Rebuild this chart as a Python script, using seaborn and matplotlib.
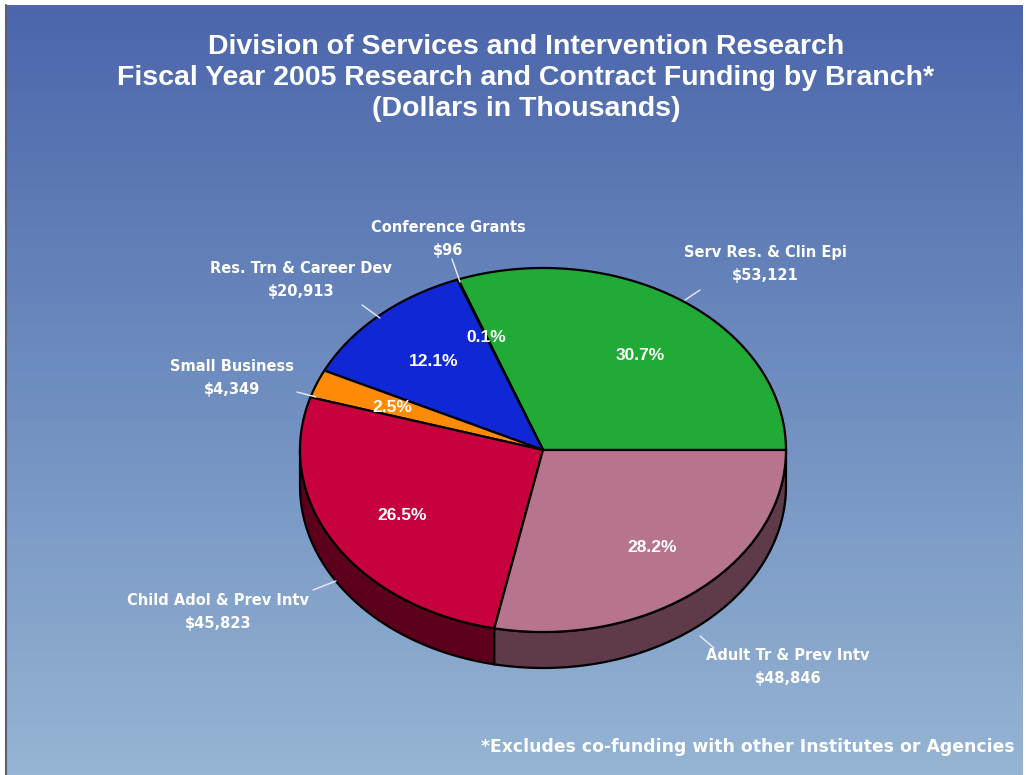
import numpy as np
import pandas as pd
import matplotlib.pyplot as plt
import matplotlib.colors as mcolors
from matplotlib.patches import Polygon
import seaborn as sns

# Data (dollars in thousands)
branches = ["Serv Res. & Clin Epi", "Conference Grants", "Res. Trn & Career Dev",
            "Small Business", "Child Adol & Prev Intv", "Adult Tr & Prev Intv"]
funding = [53121, 96, 20913, 4349, 45823, 48846]
top_colors = ["#21AA35", "#1A1A1A", "#1027D6", "#FF8A05", "#C7003E", "#B7748F"]
side_colors = ["#125E1D", "#0A0A0A", "#081570", "#8A4A00", "#5C001C", "#5E3A4A"]

# label placement (pixel coords of label text centre, leader line start/end)
label_pos = [(765, 264), (448, 239), (301, 280), (232, 378), (218, 612), (788, 667)]
leader = [((700, 290), (685, 300)), ((452, 259), (460, 282)), ((362, 305), (380, 318)),
          ((297, 392), (316, 397)), ((313, 590), (336, 581)), ((700, 636), (714, 648))]
pct_pos = [(640, 355), (486, 337), (434, 362), (392, 407), (402, 515), (652, 548)]

df = pd.DataFrame({"branch": branches, "funding": funding})
df["share"] = df["funding"] / df["funding"].sum()

sns.set_theme(style="white")
plt.rcParams["font.family"] = ["Liberation Sans", "DejaVu Sans"]

W, H = 1026, 775
fig = plt.figure(figsize=(W / 100, H / 100), dpi=100)
fig.patch.set_facecolor("white")
ax = fig.add_axes([0, 0, 1, 1])
ax.set_xlim(0, W)
ax.set_ylim(H, 0)
ax.axis("off")

# gradient background
cmap = mcolors.LinearSegmentedColormap.from_list("bg", ["#4B66AB", "#6F8EC0", "#96B4D3"])
grad = np.linspace(0, 1, 256).reshape(-1, 1)
ax.imshow(grad, cmap=cmap, extent=[6, W - 3, H, 5], aspect="auto", zorder=0)
ax.plot([6, 6], [5, H], color="#5A6070", lw=1.5, zorder=1)

# pie geometry (ellipse in pixels)
cx, cy, rx, ry, depth = 543, 450, 243, 182, 36


def pt(deg, dy=0):
    a = np.radians(deg)
    return cx + rx * np.cos(a), cy - ry * np.sin(a) + dy


bounds = np.concatenate([[0], np.cumsum(df["share"].values) * 360])

# side walls (front half only: 180..360 deg)
for i in range(len(df)):
    a0, a1 = max(bounds[i], 180), min(bounds[i + 1], 360)
    if a1 <= a0:
        continue
    ang = np.linspace(a0, a1, 120)
    top = [pt(a) for a in ang]
    bot = [pt(a, depth) for a in ang[::-1]]
    ax.add_patch(Polygon(top + bot, closed=True, facecolor=side_colors[i],
                         edgecolor="black", lw=1.6, zorder=2))

# top faces
for i in range(len(df)):
    ang = np.linspace(bounds[i], bounds[i + 1], max(4, int((bounds[i + 1] - bounds[i]) * 3)))
    verts = [(cx, cy)] + [pt(a) for a in ang]
    ax.add_patch(Polygon(verts, closed=True, facecolor=top_colors[i],
                         edgecolor="black", lw=1.6, joinstyle="round", zorder=3))

# labels
for i, row in df.iterrows():
    x, y = label_pos[i]
    ax.text(x, y, f"{row['branch']}\n${row['funding']:,}", ha="center", va="center",
            fontsize=10.5, fontweight="bold", color="white", linespacing=1.6,
            family="DejaVu Sans", zorder=5)
    (x0, y0), (x1, y1) = leader[i]
    ax.plot([x0, x1], [y0, y1], color="#E8EEF6", lw=1, zorder=4)
    px, py = pct_pos[i]
    ax.text(px, py, f"{row['share'] * 100:.1f}%", ha="center", va="center",
            fontsize=12.5, fontweight="bold", color="white", zorder=5)

ax.text(526, 78, "Division of Services and Intervention Research\n"
        "Fiscal Year 2005 Research and Contract Funding by Branch*\n"
        "(Dollars in Thousands)", ha="center", va="center", fontsize=20.5,
        fontweight="bold", color="white", linespacing=1.24, zorder=5)

ax.text(1015, 747, "*Excludes co-funding with other Institutes or Agencies", ha="right",
        va="center", fontsize=12.4, fontweight="bold", color="white",
        family="DejaVu Sans", zorder=5)

fig.savefig("out.png", dpi=100, facecolor=fig.get_facecolor())
